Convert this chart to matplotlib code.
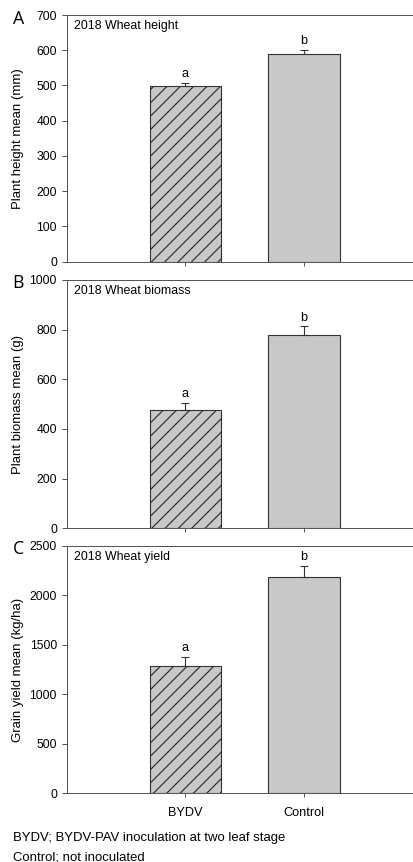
import matplotlib
matplotlib.use("Agg")
import matplotlib.pyplot as plt
import numpy as np

# Treatments
treatments = ["BYDV", "Control"]

# 2018 wheat measurements (mean and standard error)
height_mean = [498, 590]
height_err = [9, 10]
biomass_mean = [475, 778]
biomass_err = [30, 35]
yield_mean = [1290, 2190]
yield_err = [90, 110]

# Significance letters
height_letters = ["a", "b"]
biomass_letters = ["a", "b"]
yield_letters = ["a", "b"]

panel_ids = ["A", "B", "C"]
panel_titles = ["2018 Wheat height", "2018 Wheat biomass", "2018 Wheat yield"]
ylabels = ["Plant height mean (mm)", "Plant biomass mean (g)", "Grain yield mean (kg/ha)"]
ymaxes = [700, 1000, 2500]
ystep = [100, 200, 500]

footnotes = ["BYDV; BYDV-PAV inoculation at two leaf stage",
             "Control; not inoculated"]

plt.rcParams["font.family"] = ["Liberation Sans", "DejaVu Sans"]
plt.rcParams["hatch.linewidth"] = 1.1
plt.rcParams["hatch.color"] = "#111111"

W, H, DPI = 413, 862, 80
fig = plt.figure(figsize=(W / DPI, H / DPI), dpi=DPI)

# axes boxes in pixels: (top, bottom)
boxes = [(15, 261.7), (280, 528.3), (546, 793.3)]
left_px = 67
px_per_unit = 118.5
width_px = 3 * px_per_unit

means = [height_mean, biomass_mean, yield_mean]
errs = [height_err, biomass_err, yield_err]
letters = [height_letters, biomass_letters, yield_letters]

spine_col = "#555555"
fs_tick = 11
fs_xtick = 11.5
fs_title = 11.2
fs_label = 11.8
fs_note = 11.8
fs_letter = 11.4
x = np.arange(len(treatments))

for i in range(3):
    top, bot = boxes[i]
    ax = fig.add_axes([left_px / W, 1 - bot / H, width_px / W, (bot - top) / H])
    hatches = ["//", ""]
    for j in range(len(treatments)):
        ax.bar(x[j], means[i][j], width=0.6, color="#c8c8c8",
               edgecolor="#333333", linewidth=1.0, hatch=hatches[j], zorder=2)
    ax.errorbar(x, means[i], yerr=[np.zeros(len(x)), errs[i]], fmt="none",
                ecolor="#333333", elinewidth=1.0, capsize=3.2, capthick=1.0, zorder=3)
    for j in range(len(treatments)):
        ax.annotate(letters[i][j], (x[j], means[i][j] + errs[i][j]),
                    xytext=(0, 2.5), textcoords="offset points",
                    ha="center", va="bottom", fontsize=fs_letter)

    ax.set_xlim(-1, 2)
    ax.set_ylim(0, ymaxes[i])
    ax.set_yticks(np.arange(0, ymaxes[i] + 1, ystep[i]))
    ax.set_xticks(x)
    if i == 2:
        ax.set_xticklabels(treatments, fontsize=fs_xtick)
    else:
        ax.set_xticklabels([])
    ax.tick_params(axis="both", direction="out", length=4.5, width=0.9,
                   color=spine_col)
    ax.tick_params(axis="y", labelsize=fs_tick, pad=4.5)
    ax.tick_params(axis="x", length=3.6, pad=9)
    for s in ["left", "bottom", "top"]:
        ax.spines[s].set_color(spine_col)
        ax.spines[s].set_linewidth(0.9)
    ax.spines["right"].set_visible(False)

    ax.set_ylabel(ylabels[i], fontsize=fs_label)
    ax.yaxis.set_label_coords((24 - left_px) / width_px, 0.5)

    ax.text(7 / width_px, 1 - 11 / (bot - top), panel_titles[i],
            transform=ax.transAxes, ha="left", va="center", fontsize=fs_title)

    fig.text(18.5 / W, 1 - (top + 3.5) / H, panel_ids[i],
             family=["Open Sans", "DejaVu Sans"], fontsize=16,
             ha="center", va="center")

fig.text(13 / W, 1 - 838 / H, footnotes[0], ha="left", va="center", fontsize=fs_note)
fig.text(13 / W, 1 - 857 / H, footnotes[1], ha="left", va="center", fontsize=fs_note)

fig.savefig("out.png", dpi=DPI, facecolor="white")
